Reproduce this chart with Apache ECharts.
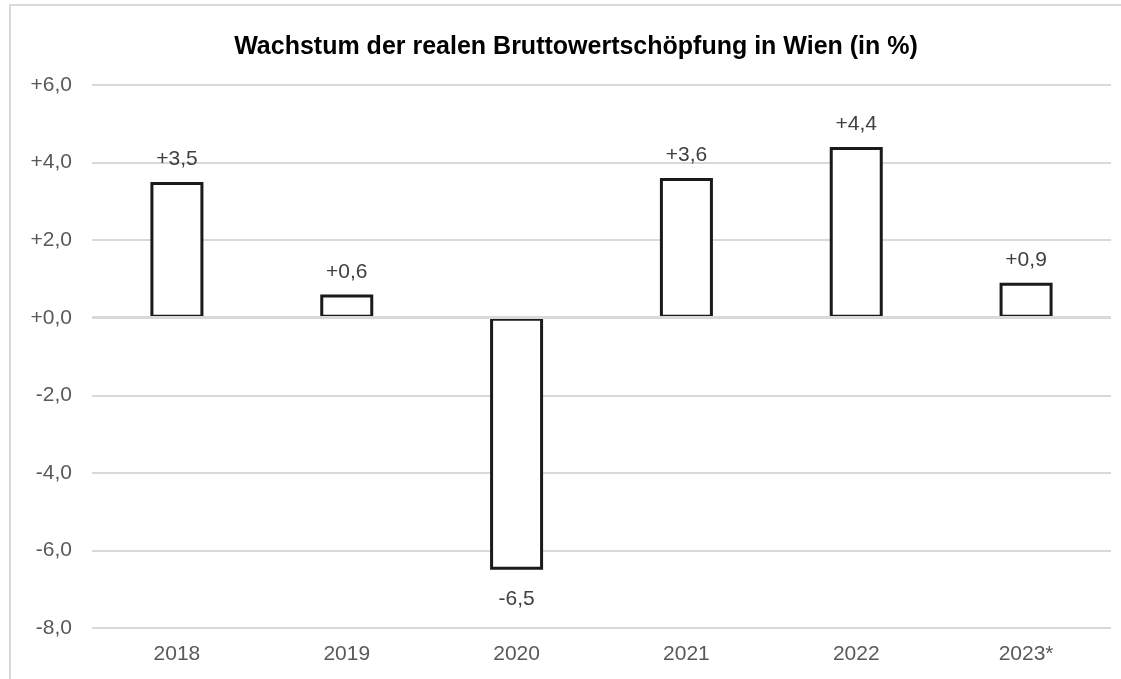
<!DOCTYPE html>
<html>
<head>
<meta charset="utf-8">
<script src="https://cdn.jsdelivr.net/npm/echarts@6/dist/echarts.min.js"></script>
<style>
  html, body { margin: 0; padding: 0; background: #fff; }
  #chart { width: 1121px; height: 679px; }
</style>
</head>
<body>
<div id="chart"></div>
<script>
const years = ["2018", "2019", "2020", "2021", "2022", "2023*"];
const growth = [3.5, 0.6, -6.5, 3.6, 4.4, 0.9];
const titleText = "Wachstum der realen Bruttowertschöpfung in Wien (in %)";

// +3,5 / -6,5 style
function fmt(v) {
  const s = Math.abs(v).toFixed(1).replace(".", ",");
  return (v < 0 ? "-" : "+") + s;
}

const chart = echarts.init(document.getElementById("chart"));
const option = {
  backgroundColor: "#fff",
  textStyle: { fontFamily: "Liberation Sans, Arial, sans-serif" },
  graphic: [
    {
      type: "rect",
      shape: { x: 10, y: 5, width: 1200, height: 720 },
      style: { fill: "none", stroke: "#d9d9d9", lineWidth: 2 },
      silent: true
    }
  ],
  title: {
    text: titleText,
    left: 571,
    textAlign: "center",
    top: 30,
    textStyle: { fontSize: 25, fontWeight: "bold", color: "#000" }
  },
  grid: { left: 92, right: 10, top: 85, bottom: 51, containLabel: false },
  xAxis: {
    type: "category",
    data: years,
    axisLine: { show: false },
    axisTick: { show: false },
    axisLabel: { color: "#595959", fontSize: 21, margin: 16 }
  },
  yAxis: {
    type: "value",
    min: -8,
    max: 6,
    interval: 2,
    axisLine: { show: false },
    axisTick: { show: false },
    axisLabel: { color: "#595959", fontSize: 21, margin: 20, formatter: fmt },
    splitLine: { lineStyle: { color: "#d9d9d9", width: 2 } }
  },
  series: [
    {
      type: "bar",
      // negative bars get their label below
      data: growth.map(v => ({
        value: v,
        label: v < 0 ? { position: "bottom", distance: 19 } : undefined
      })),
      barWidth: 53,
      itemStyle: { color: "#fff", borderColor: "#1a1a1a", borderWidth: 3 },
      label: {
        show: true,
        position: "top",
        distance: 12,
        color: "#404040",
        fontSize: 21,
        formatter: p => fmt(p.value)
      },
      markLine: {
        silent: true,
        symbol: "none",
        label: { show: false },
        lineStyle: { color: "#d9d9d9", width: 3, type: "solid" },
        data: [{ yAxis: 0 }]
      }
    }
  ]
};
chart.setOption(option);
</script>
</body>
</html>
